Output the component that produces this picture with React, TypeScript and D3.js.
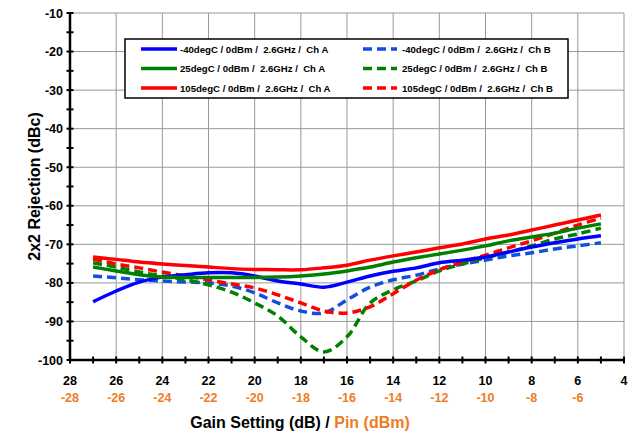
import React from 'react';
import * as d3 from 'd3';

const gains = [27, 26, 25, 24, 23, 22, 21, 20, 19, 18, 17, 16, 15, 14, 13, 12, 11, 10, 9, 8, 7, 6, 5];
const xTicks = [28, 26, 24, 22, 20, 18, 16, 14, 12, 10, 8, 6, 4];
const pinTicks = [-28, -26, -24, -22, -20, -18, -16, -14, -12, -10, -8, -6];
const yTicks = [-10, -20, -30, -40, -50, -60, -70, -80, -90, -100];

const m40ChA = [-84.9, -82.1, -79.8, -78.5, -77.9, -77.4, -77.4, -78.2, -79.5, -80.3, -81.1, -79.8, -78.2, -77.0, -76.1, -74.8, -74.1, -73.3, -72.0, -70.7, -69.6, -68.6, -67.8];
const p25ChA = [-75.9, -76.9, -77.9, -78.5, -78.6, -78.6, -78.6, -78.6, -78.5, -78.2, -77.7, -76.9, -75.9, -74.6, -73.5, -72.5, -71.5, -70.4, -69.1, -68.1, -67.1, -65.8, -64.7];
const p105ChA = [-73.3, -73.9, -74.6, -75.1, -75.5, -75.9, -76.3, -76.5, -76.6, -76.6, -76.1, -75.4, -74.1, -73.0, -72.0, -70.9, -69.9, -68.6, -67.6, -66.3, -65.0, -63.7, -62.4];
const m40ChB = [-78.2, -78.7, -79.2, -79.5, -79.8, -80.0, -80.8, -82.6, -85.2, -87.3, -87.8, -84.4, -81.1, -79.2, -78.0, -76.4, -75.1, -74.1, -73.0, -72.2, -71.2, -70.4, -69.6];
const p25ChB = [-74.8, -75.9, -77.2, -78.2, -79.2, -80.5, -82.4, -85.2, -88.6, -94.0, -97.9, -94.0, -85.2, -81.8, -79.5, -76.9, -75.1, -73.5, -72.0, -70.4, -68.6, -67.3, -65.8];
const p105ChB = [-73.8, -75.1, -76.1, -77.2, -78.2, -79.2, -80.3, -81.3, -83.1, -85.2, -87.3, -87.8, -86.2, -82.8, -79.3, -76.6, -74.6, -72.8, -70.9, -69.1, -67.1, -65.0, -63.2];

const seriesNames = [
  '-40degC / 0dBm /  2.6GHz /  Ch A',
  '25degC / 0dBm /  2.6GHz /  Ch A',
  '105degC / 0dBm /  2.6GHz /  Ch A',
  '-40degC / 0dBm /  2.6GHz /  Ch B',
  '25degC / 0dBm /  2.6GHz /  Ch B',
  '105degC / 0dBm /  2.6GHz /  Ch B',
];
const seriesValues = [m40ChA, p25ChA, p105ChA, m40ChB, p25ChB, p105ChB];
const seriesColors = ['#0000FF', '#008000', '#FF0000', '#1050E0', '#008000', '#FF0000'];
const seriesDashed = [false, false, false, true, true, true];

const W = 628, H = 434;
const L = 70, R = 624, T = 13, B = 360;
const FONT = '"Liberation Sans", Arial, sans-serif';
const ORANGE = '#EE7C22';

export default function App() {
  const x = d3.scaleLinear().domain([28, 4]).range([L, R]);
  const y = d3.scaleLinear().domain([-10, -100]).range([T, B]);
  const line = d3.line<[number, number]>()
    .x(d => x(d[0]))
    .y(d => y(d[1]))
    .curve(d3.curveCatmullRom.alpha(0.5));

  const minorX = d3.range(28, 3, -1);
  const minorY = d3.range(-10, -101, -5);

  const order = [3, 4, 5, 0, 1, 2];

  const legendRows = [0, 1, 2];
  const lgX = 125, lgY = 39, lgW = 443, lgH = 59;

  return (
    <svg width={W} height={H} style={{ position: 'absolute', left: 0, top: 0, background: '#fff' }} fontFamily={FONT}>
      <rect x={0} y={0} width={W} height={H} fill="#fff" />
      {xTicks.slice(1).map(t => (
        <line key={'gx' + t} x1={x(t)} x2={x(t)} y1={T} y2={B} stroke="#999" strokeWidth={1} />
      ))}
      {yTicks.slice(0, -1).map(t => (
        <line key={'gy' + t} x1={L} x2={R} y1={y(t)} y2={y(t)} stroke="#999" strokeWidth={1} />
      ))}
      {order.map(i => (
        <path
          key={'s' + i}
          d={line(gains.map((g, k) => [g, seriesValues[i][k]] as [number, number])) || ''}
          fill="none"
          stroke={seriesColors[i]}
          strokeWidth={3.5}
          strokeDasharray={seriesDashed[i] ? '9,5' : undefined}
          strokeLinejoin="round"
        />
      ))}
      <line x1={L} x2={L} y1={T} y2={B} stroke="#000" strokeWidth={2.5} />
      <line x1={L} x2={R} y1={B} y2={B} stroke="#000" strokeWidth={2.5} />
      {minorY.map(t => (
        <line key={'ty' + t} x1={L - 3.5} x2={L + 3.5} y1={y(t)} y2={y(t)} stroke="#000" strokeWidth={2} />
      ))}
      {minorX.map(t => (
        <line key={'tx' + t} x1={x(t)} x2={x(t)} y1={B - 3.5} y2={B + 3.5} stroke="#000" strokeWidth={2} />
      ))}
      {yTicks.map(t => (
        <text key={'ly' + t} x={L - 7} y={y(t) + 4.5} textAnchor="end" fontSize={12.5} fontWeight="bold" fill="#000">
          {t}
        </text>
      ))}
      {xTicks.map(t => (
        <text key={'lx' + t} x={x(t)} y={385} textAnchor="middle" fontSize={12.5} fontWeight="bold" fill="#000">
          {t}
        </text>
      ))}
      {pinTicks.map(t => (
        <text key={'lp' + t} x={x(-t)} y={402} textAnchor="middle" fontSize={12.5} fontWeight="bold" fill={ORANGE}>
          {t}
        </text>
      ))}
      <text x={300} y={428} textAnchor="middle" fontSize={16} fontWeight="bold" fill="#000">
        Gain Setting (dB) / <tspan fill={ORANGE}>Pin (dBm)</tspan>
      </text>
      <text transform={`translate(40, ${(T + B) / 2}) rotate(-90)`} textAnchor="middle" fontSize={16} fontWeight="bold" fill="#000">
        2x2 Rejection (dBc)
      </text>
      <rect x={lgX} y={lgY} width={lgW} height={lgH} fill="#fff" stroke="#000" strokeWidth={1.5} />
      {legendRows.map(r => {
        const ry = 49 + r * 19.5;
        return (
          <g key={'lg' + r}>
            <line x1={141} x2={177} y1={ry} y2={ry} stroke={seriesColors[r]} strokeWidth={3.5} />
            <text x={180} y={ry + 3.5} fontSize={9.6} fontWeight="bold" fill="#000" style={{ whiteSpace: 'pre' }}>
              {seriesNames[r]}
            </text>
            <line x1={363} x2={397} y1={ry} y2={ry} stroke={seriesColors[r + 3]} strokeWidth={3.5} strokeDasharray="9,5" />
            <text x={402} y={ry + 3.5} fontSize={9.6} fontWeight="bold" fill="#000" style={{ whiteSpace: 'pre' }}>
              {seriesNames[r + 3]}
            </text>
          </g>
        );
      })}
    </svg>
  );
}
